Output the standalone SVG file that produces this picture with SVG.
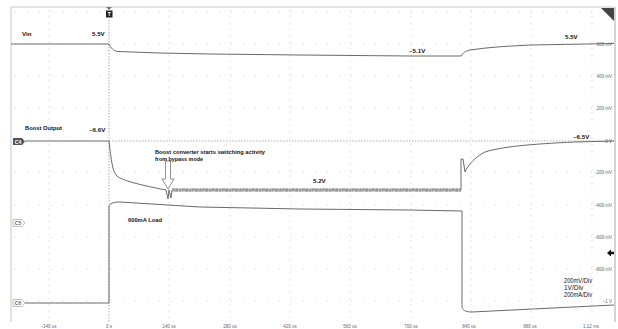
<svg xmlns="http://www.w3.org/2000/svg" width="618" height="329" viewBox="0 0 618 329">
<style>
.lbl{font-family:"Liberation Sans",Arial,sans-serif;font-weight:bold;font-size:6.2px;fill:#111}
.div{font-family:"Liberation Sans",Arial,sans-serif;font-size:6.5px;fill:#111}
.ax{font-family:"Liberation Sans",Arial,sans-serif;font-size:4.5px;fill:#666}
.gv{stroke:#b8b8b8;stroke-width:0.8;stroke-dasharray:0.8 5.6}
.gh{stroke:#b8b8b8;stroke-width:0.8;stroke-dasharray:0.8 11.2}
.tr{fill:none;stroke:#6a6a6a;stroke-width:1}
.ref{stroke:#888;stroke-width:0.7;stroke-dasharray:1.5 1.5}
.mk{font-family:"Liberation Sans",Arial,sans-serif;font-size:5px;font-weight:bold}
</style>
<rect width="618" height="329" fill="#fff"/>
<g id="grid">
<line x1="11" y1="7" x2="614" y2="7" stroke="#c8c8c8" stroke-width="1"/>
<line x1="11" y1="7" x2="11" y2="322" stroke="#c8c8c8" stroke-width="1"/>
<line x1="615" y1="7" x2="615" y2="322" stroke="#aaa" stroke-width="1"/>
<line class="gv" x1="49" y1="10" x2="49" y2="322"/>
<line class="gv" x1="169" y1="10" x2="169" y2="322"/>
<line class="gv" x1="230" y1="10" x2="230" y2="322"/>
<line class="gv" x1="290" y1="10" x2="290" y2="322"/>
<line class="gv" x1="350" y1="10" x2="350" y2="322"/>
<line class="gv" x1="411" y1="10" x2="411" y2="322"/>
<line class="gv" x1="471" y1="10" x2="471" y2="322"/>
<line class="gv" x1="531" y1="10" x2="531" y2="322"/>
<line class="gv" x1="592" y1="10" x2="592" y2="322"/>
<line class="gh" x1="15" y1="12" x2="612" y2="12"/>
<line class="gh" x1="15" y1="44" x2="612" y2="44"/>
<line class="gh" x1="15" y1="76" x2="612" y2="76"/>
<line class="gh" x1="15" y1="108" x2="612" y2="108"/>
<line class="gh" x1="15" y1="172" x2="612" y2="172"/>
<line class="gh" x1="15" y1="205" x2="612" y2="205"/>
<line class="gh" x1="15" y1="237" x2="612" y2="237"/>
<line class="gh" x1="15" y1="269" x2="612" y2="269"/>
<line class="gh" x1="15" y1="301" x2="612" y2="301"/>
<line class="ref" x1="109" y1="20" x2="109" y2="322"/>
<line class="ref" x1="109" y1="141" x2="614" y2="141"/>
</g>
<g id="axis-labels">
<text class="ax" x="612" y="46" text-anchor="end">600 mV</text>
<text class="ax" x="612" y="78" text-anchor="end">400 mV</text>
<text class="ax" x="612" y="110" text-anchor="end">200 mV</text>
<text class="ax" x="612" y="142.5" text-anchor="end">0 V</text>
<text class="ax" x="612" y="174" text-anchor="end">-200 mV</text>
<text class="ax" x="612" y="206.5" text-anchor="end">-400 mV</text>
<text class="ax" x="612" y="239" text-anchor="end">-600 mV</text>
<text class="ax" x="612" y="271" text-anchor="end">-800 mV</text>
<text class="ax" x="612" y="303" text-anchor="end">-1 V</text>
<text class="ax" x="49" y="328" text-anchor="middle">-140 us</text>
<text class="ax" x="109" y="328" text-anchor="middle">0 s</text>
<text class="ax" x="169" y="328" text-anchor="middle">140 us</text>
<text class="ax" x="230" y="328" text-anchor="middle">280 us</text>
<text class="ax" x="290" y="328" text-anchor="middle">420 us</text>
<text class="ax" x="350" y="328" text-anchor="middle">560 us</text>
<text class="ax" x="411" y="328" text-anchor="middle">700 us</text>
<text class="ax" x="469" y="328" text-anchor="middle">840 us</text>
<text class="ax" x="530" y="328" text-anchor="middle">980 us</text>
<text class="ax" x="591" y="328" text-anchor="middle">1.12 ms</text>
</g>
<g id="markers">
<path d="M106,7 L112,7 L109,10 Z" fill="#777"/>
<rect x="106" y="10.5" width="6.5" height="7" fill="#222"/>
<text class="mk" x="109.2" y="16.2" text-anchor="middle" fill="#fff">T</text>
<path d="M601,8 L614,8 L614,21 Z" fill="#444"/>
<path d="M13,138 L22,138 L25,141.5 L22,145 L13,145 Z" fill="#555"/>
<text class="mk" x="18" y="143.5" text-anchor="middle" fill="#fff" font-size="4.5">C4</text>
<path d="M13,219.5 L22,219.5 L25,223 L22,226.5 L13,226.5 Z" fill="#fff" stroke="#999" stroke-width="0.6"/>
<text class="mk" x="18" y="225" text-anchor="middle" fill="#666" font-size="4.5">C5</text>
<path d="M13,299.5 L22,299.5 L25,303 L22,306.5 L13,306.5 Z" fill="#fff" stroke="#999" stroke-width="0.6"/>
<text class="mk" x="18" y="305" text-anchor="middle" fill="#666" font-size="4.5">C6</text>
<path d="M607,253 L611,249.5 L611,251.8 L614,251.8 L614,254.2 L611,254.2 L611,256.5 Z" fill="#111"/>
</g>
<g id="connectors">
<path class="tr" d="M11,44 L109,44 C111,48 113,51 118,51.5 L160,53 L210,54 L300,55 L410,56 L461,56 C463,53 465,51 470,50 C490,47 510,46 531,45 L614,43.5"/>
<path class="tr" d="M25,141 L109,141 L110,150 C112,165 113,172 117,176 C122,180 135,184 166,190 L168,199 L169,190 L171,198 L172,190"/>
<rect x="172" y="188.5" width="289" height="3" fill="#b0b0b0"/>
<line x1="172" y1="189" x2="461" y2="189" stroke="#666" stroke-width="0.6" stroke-dasharray="3 1 2 2 1 1"/>
<line x1="172" y1="191" x2="461" y2="191" stroke="#666" stroke-width="0.6" stroke-dasharray="1 2 3 1 2 1"/>
<path class="tr" d="M461,190 L461,159 L463,159 L465,172 C468,165 475,157 485,152 C500,147 530,144 575,142 L614,141"/>
<path class="tr" d="M25,303 L109,303 L109,206 C110,204 112,202 120,202 L200,207 L300,209 L410,210 L462,211 L462,306 C462,310 465,312 472,312 L614,305"/>
<path d="M165.5,161 L170.5,161 L170.5,179 L174,179 L168,189 L162,179 L165.5,179 Z" fill="#fff" stroke="#666" stroke-width="0.7"/>
</g>
<g id="labels">
<text class="lbl" x="22" y="36">Vin</text>
<text class="lbl" x="92" y="36">5.5V</text>
<text class="lbl" x="409" y="53">~5.1V</text>
<text class="lbl" x="565" y="39">5.5V</text>
<text class="lbl" x="25" y="130" textLength="37" lengthAdjust="spacingAndGlyphs">Boost Output</text>
<text class="lbl" x="89" y="132">~6.6V</text>
<text class="lbl" x="155" y="154" textLength="110" lengthAdjust="spacingAndGlyphs">Boost converter starts switching activity</text>
<text class="lbl" x="155" y="161" textLength="48" lengthAdjust="spacingAndGlyphs">from bypass mode</text>
<text class="lbl" x="313" y="183">5.2V</text>
<text class="lbl" x="573" y="139">~6.5V</text>
<text class="lbl" x="128" y="222" textLength="34" lengthAdjust="spacingAndGlyphs">600mA Load</text>
<text class="div" x="564" y="283" textLength="28" lengthAdjust="spacingAndGlyphs">200mV/Div</text>
<text class="div" x="564" y="290">1V/Div</text>
<text class="div" x="564" y="297" textLength="28" lengthAdjust="spacingAndGlyphs">200mA/Div</text>
</g>
</svg>
